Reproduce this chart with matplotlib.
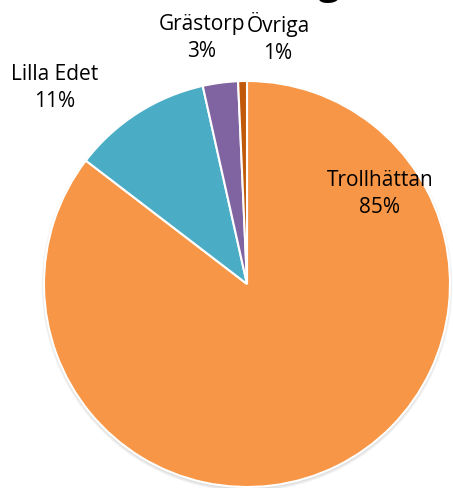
import matplotlib
matplotlib.use("Agg")
import matplotlib.pyplot as plt
from matplotlib.patches import Circle

# slice data, clockwise from 12 o'clock (labels show rounded percentages)
names = ["Trollhättan", "Lilla Edet", "Grästorp", "Övriga"]
shares = [85.4, 11.1, 2.8, 0.7]
colors = ["#F79646", "#4BACC6", "#8064A2", "#C0590A"]
title = "Fördelning"

W, H = 453, 488
fig = plt.figure(figsize=(W / 100, H / 100), dpi=100)
ax = fig.add_axes([0, 0, 1, 1])

cx, cy, r = 247, H - 284, 203
for i in range(4):                                   # soft drop shadow under the pie
    ax.add_patch(Circle((cx, cy - 2), r + 0.8 * i, facecolor="#808080", edgecolor="none",
                        alpha=0.07, zorder=0))
ax.pie(shares, colors=colors, startangle=90, counterclock=False,
       center=(cx, cy), radius=r, frame=True,
       wedgeprops=dict(edgecolor="white", linewidth=1.5, zorder=1))
ax.set_xlim(0, W); ax.set_ylim(0, H); ax.set_aspect("equal")
ax.axis("off")

# label positions in pixel coords (x, y from top)
label_px = [(380, 194), (55, 88), (202, 38), (278, 38)]
for name, val, (lx, ly) in zip(names, shares, label_px):
    ax.text(lx, H - ly, f"{name}\n{round(val)}%", ha="center", va="center",
            fontsize=15, family="Open Sans", color="#000000", linespacing=1.4, zorder=3)

fig.text(238 / W, 1 + 6 / H, title, ha="center", va="baseline",
         fontsize=28, fontweight="bold", family="Open Sans")
fig.savefig("out.png", dpi=100)
